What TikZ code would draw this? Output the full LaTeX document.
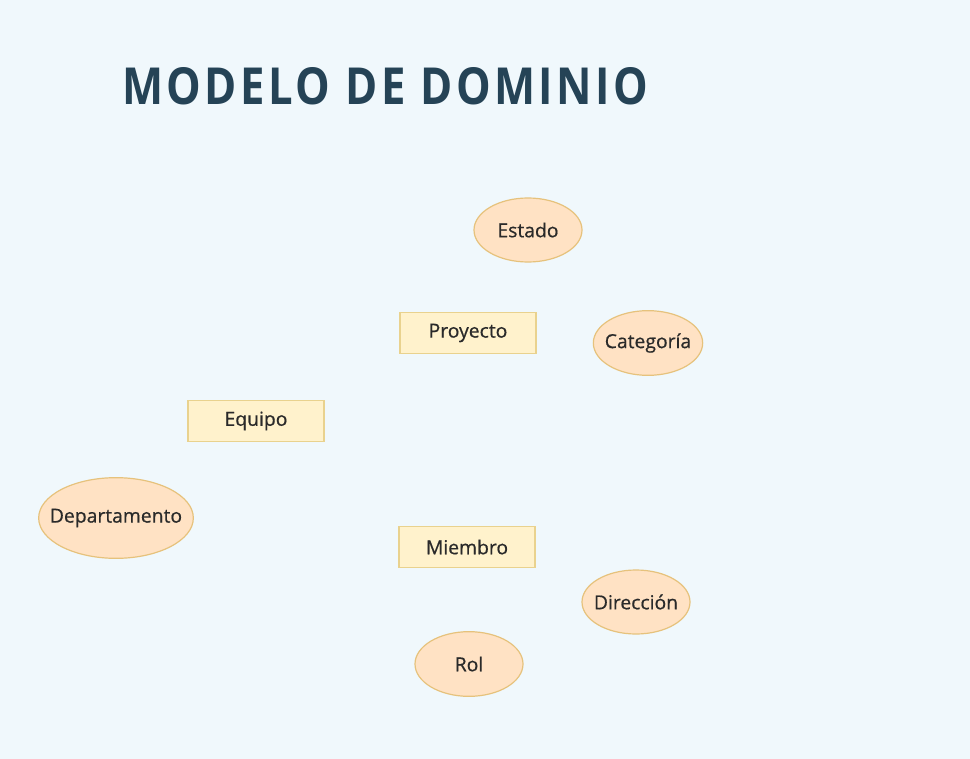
\documentclass[tikz,border=0pt]{standalone}
\usepackage{fontspec}
\setmainfont{Open Sans}
\newfontfamily\titlefont[LetterSpace=8]{Open Sans}
\newfontfamily\nodefont[FakeBold=0.6]{Open Sans}
\usetikzlibrary{shapes.geometric}
\definecolor{bgc}{HTML}{F0F8FC}
\definecolor{titlec}{HTML}{254356}
\definecolor{rectfill}{HTML}{FFF2CC}
\definecolor{rectdraw}{HTML}{E9D28E}
\definecolor{ellfill}{HTML}{FFE2C4}
\definecolor{elldraw}{HTML}{E6C27C}
\definecolor{txtc}{HTML}{2A2A2A}
\tikzset{
  entity/.style={rectangle, draw=rectdraw, fill=rectfill, line width=0.9pt, minimum width=102pt, minimum height=30.5pt, inner sep=0pt, font=\nodefont\fontsize{14.5pt}{16pt}\selectfont, text=txtc},
  attrib/.style={ellipse, draw=elldraw, fill=ellfill, line width=0.9pt, inner xsep=-30pt, inner ysep=-10pt, font=\nodefont\fontsize{14.5pt}{16pt}\selectfont, text=txtc},
}
\begin{document}
\begin{tikzpicture}[x=0.75pt,y=-0.75pt]
\fill[bgc] (0,0) rectangle (970,759);
\useasboundingbox (0,0) rectangle (970,759);
\node[anchor=base west, inner sep=0pt, text=titlec] (title) at (122,105) {\resizebox{394.5pt}{27.75pt}{\titlefont\bfseries MODELO DE DOMINIO}};
\node[entity] (proyecto) at (468,333) {Proyecto};
\node[entity] (equipo) at (256,421) {Equipo};
\node[entity] (miembro) at (467,547) {Miembro};
\node[attrib, minimum width=81pt, minimum height=48pt] (estado) at (528,230) {Estado};
\node[attrib, minimum width=82pt, minimum height=48.5pt] (categoria) at (648,343) {Categoría};
\node[attrib, minimum width=116pt, minimum height=60.5pt] (departamento) at (116,518) {Departamento};
\node[attrib, minimum width=81pt, minimum height=48pt] (direccion) at (636,602) {Dirección};
\node[attrib, minimum width=81pt, minimum height=48.5pt] (rol) at (469,664) {Rol};
\end{tikzpicture}
\end{document}
